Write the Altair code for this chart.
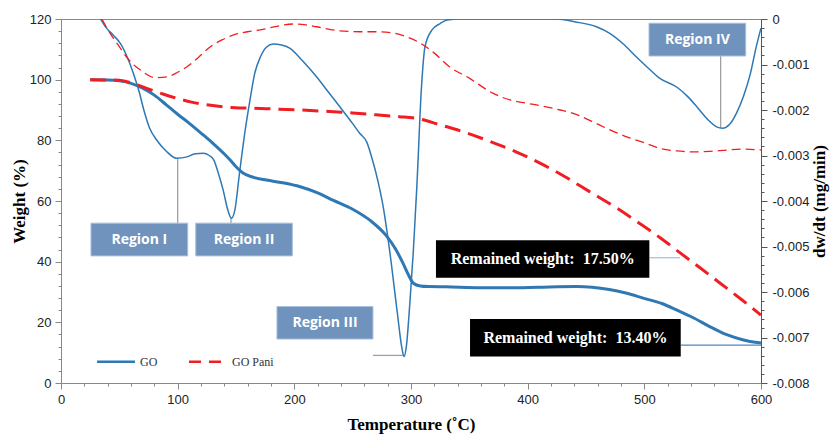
import altair as alt
import pandas as pd

# ---------------- data ----------------
go_w_t = [25, 40, 50, 60, 70, 80, 90, 100, 110, 120, 130, 140, 145, 150, 156, 165, 176, 190, 205,
          220, 233, 250, 265, 279, 287, 293, 298, 302, 308, 315, 330, 360, 385, 410, 442, 470, 485,
          499, 515, 528, 542, 556, 570, 585, 595, 600]
go_w = [100, 99.9, 99.6, 98.8, 97.2, 94.9, 91.8, 88.6, 85.6, 82.4, 79.1, 75.5, 73.5, 71.3, 69.2,
        67.8, 66.9, 66.0, 64.7, 62.7, 60.3, 57.3, 53.6, 48.5, 44.0, 39.6, 35.5, 32.9, 32.0, 31.8,
        31.7, 31.4, 31.4, 31.6, 31.8, 30.8, 29.6, 28.0, 26.2, 24.0, 21.5, 18.6, 16.0, 14.2, 13.4, 13.2]

pani_w_t = [25, 50, 63, 76, 88, 99, 112, 125, 140, 162, 185, 205, 230, 250, 270, 290, 305, 325,
            345, 368, 390, 411, 432, 453, 475, 496, 515, 531, 548, 565, 583, 600]
pani_w = [100, 99.8, 98.6, 96.8, 95.2, 93.9, 92.6, 91.7, 91.0, 90.6, 90.3, 90.0, 89.5, 89.0, 88.4,
          87.8, 87.2, 85.1, 82.8, 79.6, 76.2, 72.4, 68.0, 63.1, 58.0, 52.6, 47.5, 42.8, 37.9, 32.9,
          27.6, 22.4]

go_d_t = [34, 39, 45, 51, 57, 62, 67, 71, 76, 82, 90, 99, 108, 115, 122, 127, 131, 135, 139, 143,
          146, 149, 153, 157, 162, 166, 171, 176, 182, 189, 196, 207, 219, 229, 239, 250, 256, 262,
          267, 272, 276, 282, 288, 292, 294, 296, 299, 302, 305, 309, 312, 318, 325, 331, 342, 425,
          440, 459, 470, 482, 493, 503, 513, 528, 537, 545, 554, 562, 567, 573, 579, 585, 591, 596, 600]
go_d = [0, -0.0002, -0.00036, -0.00054, -0.00085, -0.00119, -0.0016, -0.002, -0.0024, -0.00266,
        -0.0029, -0.00306, -0.00303, -0.00296, -0.00295, -0.003, -0.0031, -0.0034, -0.00376, -0.0042,
        -0.00438, -0.0042, -0.00339, -0.0026, -0.00178, -0.0012, -0.00083, -0.00062, -0.00055,
        -0.00057, -0.00064, -0.00092, -0.00127, -0.0016, -0.00193, -0.0023, -0.00251, -0.0027,
        -0.0031, -0.0036, -0.0041, -0.00515, -0.0064, -0.0072, -0.00742, -0.0072, -0.00625, -0.0051,
        -0.00369, -0.00149, -0.00061, -0.00024, -0.0001, -0.00002, 0, 0, -0.00006, -0.00017,
        -0.00031, -0.00055, -0.00083, -0.00107, -0.0013, -0.0015, -0.0017, -0.00193, -0.0022,
        -0.00237, -0.0024, -0.00232, -0.00207, -0.0017, -0.00119, -0.0006, -0.0002]

pani_d_t = [35, 42, 49, 56, 62, 68, 75, 81, 91, 100, 108, 118, 128, 138, 148, 160, 171, 185, 199,
            210, 219, 239, 256, 270, 285, 297, 308, 320, 333, 350, 370, 385, 399, 414, 428, 442, 456,
            470, 485, 500, 513, 528, 542, 556, 571, 585, 600]
pani_d = [0, -0.00031, -0.00057, -0.00083, -0.001, -0.00112, -0.00124, -0.00129, -0.00127, -0.00117,
          -0.00105, -0.00084, -0.00061, -0.00046, -0.00035, -0.00028, -0.00024, -0.00016, -0.00011,
          -0.00013, -0.00017, -0.00026, -0.00028, -0.00028, -0.00031, -0.0004, -0.00053, -0.00075,
          -0.00105, -0.0013, -0.00163, -0.00178, -0.00185, -0.00192, -0.002, -0.0021, -0.00226,
          -0.00243, -0.00259, -0.00272, -0.00284, -0.0029, -0.00292, -0.00291, -0.00288, -0.00286,
          -0.00288]

# annotations (in temperature / weight units)
region_labels = ["Region I", "Region II", "Region III", "Region IV"]
region_x1 = [25.7, 115.5, 185.1, 504.0]
region_x2 = [108.6, 198.3, 267.4, 586.9]
region_y1 = [41.9, 41.9, 14.5, 107.8]
region_y2 = [52.7, 52.7, 25.2, 118.6]

remain_labels = ["Remained weight:\u00a0 17.50%", "Remained weight:\u00a0 13.40%"]
remain_x1 = [321.4, 350.6]
remain_x2 = [504.3, 531.2]
remain_y1 = [34.7, 8.7]
remain_y2 = [47.1, 21.1]

conn_x1 = [100, 145.7, 267.4, 565.4]
conn_x2 = [100, 145.7, 294, 565.4]
conn_y1 = [74.2, 54.4, 9.1, 84.1]
conn_y2 = [52.7, 52.7, 9.1, 107.8]

rem_conn_x1 = [504.3, 531.2]
rem_conn_x2 = [530.6, 600]
rem_conn_y = [41.3, 12.5]
rem_conn_col = ["#a9c3df", "#4f86c0"]

leg_labels = ["GO", "GO Pani"]
leg_x1 = [30.9, 109.7]
leg_x2 = [63.4, 138.0]
leg_tx = [66.9, 145.7]
leg_y = [7.0, 7.0]

BLUE = "#2e78b4"
RED = "#f01e23"
GRAY = "#888888"

# ---------------- scales / axes ----------------
xs = alt.Scale(domain=[0, 600], nice=False, zero=False)
yl = alt.Scale(domain=[0, 120], nice=False)
yr = alt.Scale(domain=[-0.008, 0], nice=False)

x_axis = alt.Axis(
    orient="bottom",
    values=list(range(0, 601, 20)),
    labelExpr="datum.value % 100 === 0 ? datum.label : ''",
    tickSize={"condition": {"test": "datum.value % 100 === 0", "value": 6}, "value": 3},
    title="Temperature (\u02daC)", titleFont="Liberation Serif", titleFontSize=17,
    titleFontWeight="bold", titleColor="#000", titlePadding=10,
    labelFont="Liberation Sans", labelFontSize=13, labelColor="#222", labelPadding=4,
    labelOverlap=False, labelFlush=False,
    domainColor=GRAY, tickColor=GRAY, grid=False,
)
yl_axis = alt.Axis(
    orient="left",
    values=list(range(0, 121, 4)),
    labelExpr="datum.value % 20 === 0 ? datum.label : ''",
    tickSize={"condition": {"test": "datum.value % 20 === 0", "value": 6}, "value": 3},
    title="Weight (%)", titleFont="Liberation Serif", titleFontSize=17,
    titleFontWeight="bold", titleColor="#000", titlePadding=1,
    labelFont="Liberation Sans", labelFontSize=13, labelColor="#222", labelPadding=4,
    labelOverlap=False, labelFlush=False,
    domainColor=GRAY, tickColor=GRAY, grid=False,
)
yr_vals = [round(i * 0.0002, 4) for i in range(-40, 1)]
yr_axis = alt.Axis(
    orient="right",
    values=yr_vals,
    labelExpr="abs(round(datum.value * 10000)) % 10 === 0 ? replace(format(datum.value, '.3~f'), '\u2212', '-') : ''",
    tickSize={"condition": {"test": "abs(round(datum.value * 10000)) % 10 === 0", "value": 6}, "value": 3},
    title="dw/dt (mg/min)", titleFont="Liberation Serif", titleFontSize=17,
    titleFontWeight="bold", titleColor="#000", titlePadding=20, titleAngle=270,
    labelFont="Liberation Sans", labelFontSize=13, labelColor="#222", labelPadding=5,
    labelOverlap=False, labelFlush=False,
    domainColor="#555", tickColor="#555", grid=False,
)

# ---------------- data frames ----------------
df_go_w = pd.DataFrame({"t": go_w_t, "w": go_w})
df_pani_w = pd.DataFrame({"t": pani_w_t, "w": pani_w})
df_go_d = pd.DataFrame({"t": go_d_t, "d": go_d})
df_pani_d = pd.DataFrame({"t": pani_d_t, "d": pani_d})

df_reg = pd.DataFrame({"label": region_labels, "x1": region_x1, "x2": region_x2,
                       "y1": region_y1, "y2": region_y2})
df_reg["xm"] = (df_reg.x1 + df_reg.x2) / 2
df_reg["ym"] = (df_reg.y1 + df_reg.y2) / 2
df_rem = pd.DataFrame({"label": remain_labels, "x1": remain_x1, "x2": remain_x2,
                       "y1": remain_y1, "y2": remain_y2})
df_rem["xm"] = (df_rem.x1 + df_rem.x2) / 2
df_rem["ym"] = (df_rem.y1 + df_rem.y2) / 2
df_conn = pd.DataFrame({"x1": conn_x1, "x2": conn_x2, "y1": conn_y1, "y2": conn_y2})
df_rconn = pd.DataFrame({"x1": rem_conn_x1, "x2": rem_conn_x2, "y": rem_conn_y, "c": rem_conn_col})
df_leg = pd.DataFrame({"label": leg_labels, "x1": leg_x1, "x2": leg_x2, "tx": leg_tx, "y": leg_y})


def X(field):
    return alt.X(field, scale=xs, axis=x_axis)


def YL(field):
    return alt.Y(field, scale=yl, axis=yl_axis)


def YR(field):
    return alt.Y(field, scale=yr, axis=yr_axis)


# ---------------- left (weight) layers ----------------
go_w_line = alt.Chart(df_go_w).mark_line(color=BLUE, strokeWidth=3, interpolate="monotone", clip=True).encode(
    x=X("t:Q"), y=YL("w:Q"),
)
pani_w_line = alt.Chart(df_pani_w).mark_line(color=RED, strokeWidth=3, strokeDash=[16, 8],
                                              interpolate="monotone", clip=True).encode(
    x=X("t:Q"), y=YL("w:Q"),
)
conn = alt.Chart(df_conn).mark_rule(color="#a0a0a0", strokeWidth=1.3).encode(
    x=X("x1:Q"), x2="x2:Q", y=YL("y1:Q"), y2="y2:Q",
)
rconn = alt.Chart(df_rconn).mark_rule(strokeWidth=1.3).encode(
    x=X("x1:Q"), x2="x2:Q", y=YL("y:Q"),
    color=alt.Color("c:N", scale=None),
)
reg_box = alt.Chart(df_reg).mark_rect(fill="#7093be", stroke="#a9bfdc", strokeWidth=1).encode(
    x=X("x1:Q"), x2="x2:Q", y=YL("y1:Q"), y2="y2:Q",
)
reg_txt = alt.Chart(df_reg).mark_text(color="white", font="Open Sans", fontSize=14,
                                      fontWeight="bold", baseline="middle", align="center").encode(
    x=X("xm:Q"), y=YL("ym:Q"), text="label:N",
)
rem_box = alt.Chart(df_rem).mark_rect(fill="#000000").encode(
    x=X("x1:Q"), x2="x2:Q", y=YL("y1:Q"), y2="y2:Q",
)
rem_txt = alt.Chart(df_rem).mark_text(color="white", font="Liberation Serif", fontSize=16,
                                      fontWeight="bold", baseline="middle", align="center").encode(
    x=X("xm:Q"), y=YL("ym:Q"), text="label:N",
)
leg_go = alt.Chart(df_leg[df_leg.label == "GO"]).mark_rule(color=BLUE, strokeWidth=2.5).encode(
    x=X("x1:Q"), x2="x2:Q", y=YL("y:Q"),
)
leg_pani = alt.Chart(df_leg[df_leg.label == "GO Pani"]).mark_rule(color=RED, strokeWidth=2.5,
                                                                   strokeDash=[12, 8]).encode(
    x=X("x1:Q"), x2="x2:Q", y=YL("y:Q"),
)
leg_txt = alt.Chart(df_leg).mark_text(color="#333", font="Liberation Serif", fontSize=12,
                                      align="left", baseline="middle", dx=1).encode(
    x=X("tx:Q"), y=YL("y:Q"), text="label:N",
)

left = alt.layer(go_w_line, pani_w_line, conn, rconn, reg_box, reg_txt, rem_box, rem_txt,
                 leg_go, leg_pani, leg_txt)

# ---------------- right (derivative) layers ----------------
go_d_line = alt.Chart(df_go_d).mark_line(color=BLUE, strokeWidth=1.5, interpolate="monotone", clip=True).encode(
    x=X("t:Q"), y=YR("d:Q"),
)
pani_d_line = alt.Chart(df_pani_d).mark_line(color=RED, strokeWidth=1.3, strokeDash=[9, 5],
                                              interpolate="monotone", clip=True).encode(
    x=X("t:Q"), y=YR("d:Q"),
)
right = alt.layer(go_d_line, pani_d_line)

chart = alt.layer(left, right).resolve_scale(y="independent").properties(
    width=700, height=364,
    autosize=alt.AutoSizeParams(type="none"),
    padding={"left": 61, "top": 19, "right": 70, "bottom": 51},
    background="white",
).configure_view(stroke=GRAY, strokeWidth=1)

chart.save("out.html", embed_options={"renderer": "svg", "actions": False})
